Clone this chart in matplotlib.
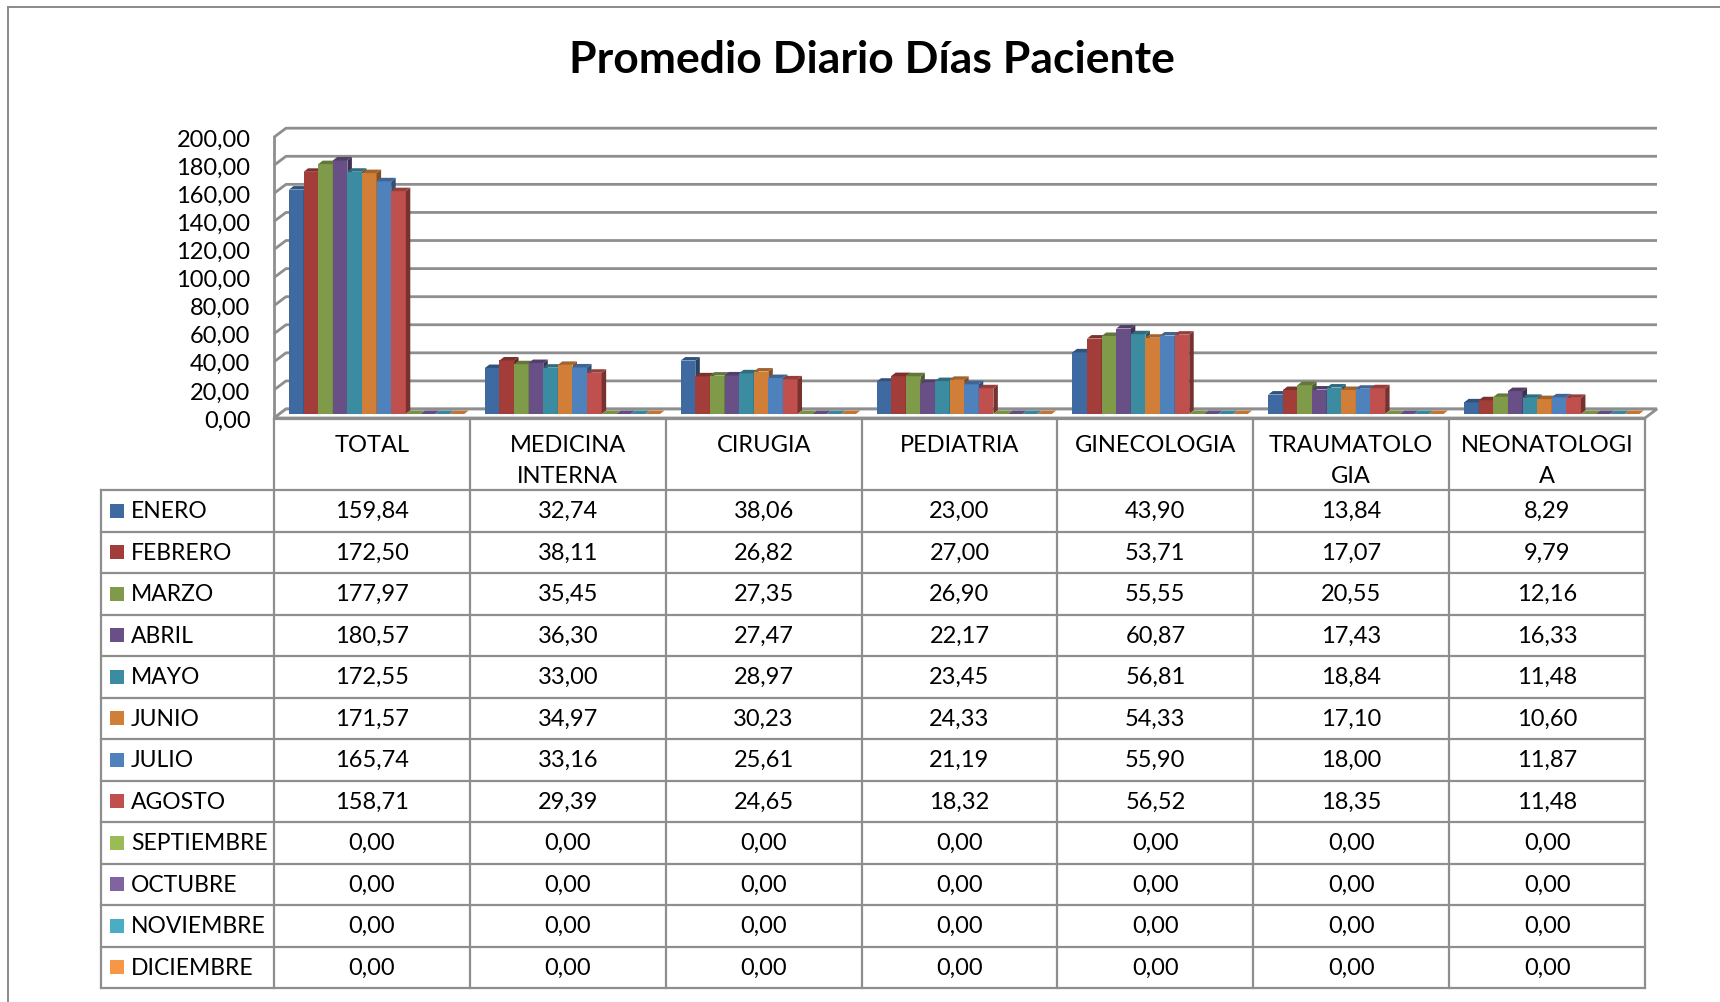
import numpy as np
import matplotlib
matplotlib.use("Agg")
import matplotlib.pyplot as plt
from matplotlib.patches import Polygon, Rectangle
from matplotlib.lines import Line2D
from matplotlib.colors import to_rgb

plt.rcParams['font.family'] = ['Lato', 'DejaVu Sans']

title = "Promedio Diario Días Paciente"
categories = ["TOTAL", "MEDICINA\nINTERNA", "CIRUGIA", "PEDIATRIA", "GINECOLOGIA",
              "TRAUMATOLO\nGIA", "NEONATOLOGI\nA"]
months = ["ENERO", "FEBRERO", "MARZO", "ABRIL", "MAYO", "JUNIO", "JULIO", "AGOSTO",
          "SEPTIEMBRE", "OCTUBRE", "NOVIEMBRE", "DICIEMBRE"]

enero = [159.84, 32.74, 38.06, 23.00, 43.90, 13.84, 8.29]
febrero = [172.50, 38.11, 26.82, 27.00, 53.71, 17.07, 9.79]
marzo = [177.97, 35.45, 27.35, 26.90, 55.55, 20.55, 12.16]
abril = [180.57, 36.30, 27.47, 22.17, 60.87, 17.43, 16.33]
mayo = [172.55, 33.00, 28.97, 23.45, 56.81, 18.84, 11.48]
junio = [171.57, 34.97, 30.23, 24.33, 54.33, 17.10, 10.60]
julio = [165.74, 33.16, 25.61, 21.19, 55.90, 18.00, 11.87]
agosto = [158.71, 29.39, 24.65, 18.32, 56.52, 18.35, 11.48]
septiembre = [0.00, 0.00, 0.00, 0.00, 0.00, 0.00, 0.00]
octubre = [0.00, 0.00, 0.00, 0.00, 0.00, 0.00, 0.00]
noviembre = [0.00, 0.00, 0.00, 0.00, 0.00, 0.00, 0.00]
diciembre = [0.00, 0.00, 0.00, 0.00, 0.00, 0.00, 0.00]

series = [enero, febrero, marzo, abril, mayo, junio, julio, agosto,
          septiembre, octubre, noviembre, diciembre]
colors = ["#3E6AA1", "#A23D3A", "#7F9A48", "#684F86", "#3B8BA1", "#D17F38",
          "#4F81BD", "#C0504D", "#9BBB59", "#8064A2", "#4BACC6", "#F79646"]

yticks = np.arange(0, 201, 20)


def fmt(v):
    return f"{v:.2f}".replace(".", ",")


def shade(c, f):
    r, g, b = to_rgb(c)
    return (r * f, g * f, b * f)


W, H = 1720, 1003
fig = plt.figure(figsize=(W / 100, H / 100), dpi=100)
grid_c = "#8E8E8E"
fs = 17

# outer chart frame (only left and top edges are visible)
fig.add_artist(Line2D([8 / W, 8 / W], [0, 1 - 8 / H], color="#8A8A8A", lw=1.4))
fig.add_artist(Line2D([8 / W, 1], [1 - 8 / H, 1 - 8 / H], color="#8A8A8A", lw=1.4))

fig.text(872 / W, 1 - 60 / H, title, ha="center", va="center",
         fontsize=32, fontweight="bold")

# chart area: front plane, x = category index, y = value
x0, x1, y0, y1 = 274, 1645, 419, 138.2
ax = fig.add_axes([x0 / W, 1 - y0 / H, (x1 - x0) / W, (y0 - y1) / H])
ax.set_xlim(0, 7)
ax.set_ylim(0, 200)
for s in ax.spines.values():
    s.set_visible(False)
ax.patch.set_visible(False)
ax.set_xticks([])
ax.set_yticks(yticks)
ax.set_yticklabels([fmt(v) for v in yticks], fontsize=fs)
ax.tick_params(axis="y", length=0, pad=17)

sx = (x1 - x0) / 7.0
sy = (y0 - y1) / 200.0
wx, wy = 12 / sx, 9 / sy      # depth of walls
bx, by = 5 / sx, 4 / sy       # bars plane
tdx, tdy = 4.5 / sx, 3.5 / sy  # bar depth
bw = 14.6 / sx
g0 = 15 / sx - bx

# back and side wall gridlines
for v in yticks:
    ax.plot([0, wx, 7 + wx], [v, v + wy, v + wy], color=grid_c, lw=2.0,
            solid_capstyle="butt", clip_on=False, zorder=1)
ax.plot([0, 0], [0, 200], color=grid_c, lw=2.0, clip_on=False, zorder=1)

# floor
ax.add_patch(Polygon([(0, 0), (7, 0), (7 + wx, wy), (wx, wy)], closed=True,
                     facecolor="white", edgecolor=grid_c, lw=2.0,
                     clip_on=False, zorder=1.5))

# 3d columns
for i in range(len(categories)):
    for j, vals in enumerate(series):
        v = vals[i]
        c = colors[j]
        left = i + g0 + bx + j * bw
        z = 2 + j * 0.01
        b = by
        ax.add_patch(Rectangle((left, b), bw, v, facecolor=c, edgecolor="none",
                               clip_on=False, zorder=z))
        ax.add_patch(Polygon([(left + bw, b), (left + bw + tdx, b + tdy),
                              (left + bw + tdx, b + v + tdy), (left + bw, b + v)],
                             closed=True, facecolor=shade(c, 0.62),
                             edgecolor="none", clip_on=False, zorder=z))
        ax.add_patch(Polygon([(left, b + v), (left + tdx, b + v + tdy),
                              (left + bw + tdx, b + v + tdy), (left + bw, b + v)],
                             closed=True, facecolor=shade(c, 0.78),
                             edgecolor="none", clip_on=False, zorder=z))

# data table with legend keys
t0, t1 = 420, 989
lx = 101
rows = len(months)
row_h = 41.5
hh = (491 - t0) / row_h
L = (x0 - lx) / sx
tax = fig.add_axes([lx / W, 1 - t1 / H, (x1 - lx) / W, (t1 - t0) / H])
tax.set_xlim(-L, 7)
tax.set_ylim(rows, -hh)
tax.axis("off")

line_kw = dict(color=grid_c, lw=1.6, clip_on=False, solid_capstyle="projecting")
tax.plot([0, 7], [-hh, -hh], **line_kw)
for k in range(8):
    tax.plot([k, k], [-hh, rows], **line_kw)
tax.plot([-L, -L], [0, rows], **line_kw)
for r in range(rows + 1):
    tax.plot([-L, 7], [r, r], **line_kw)

for i, cat in enumerate(categories):
    tax.text(i + 0.5, -hh + 0.36, cat, ha="center", va="top", fontsize=fs,
             linespacing=1.6)

for r, (m, vals) in enumerate(zip(months, series)):
    tax.add_patch(Rectangle((-L + 9 / sx, r + 0.5 - 7 / row_h), 14 / sx, 14 / row_h,
                            facecolor=colors[r], edgecolor="none"))
    tax.text(-L + 30 / sx, r + 0.5, m, ha="left", va="center", fontsize=16.5)
    for i, v in enumerate(vals):
        tax.text(i + 0.5, r + 0.5, fmt(v), ha="center", va="center", fontsize=fs)

fig.savefig("out.png", dpi=100)
